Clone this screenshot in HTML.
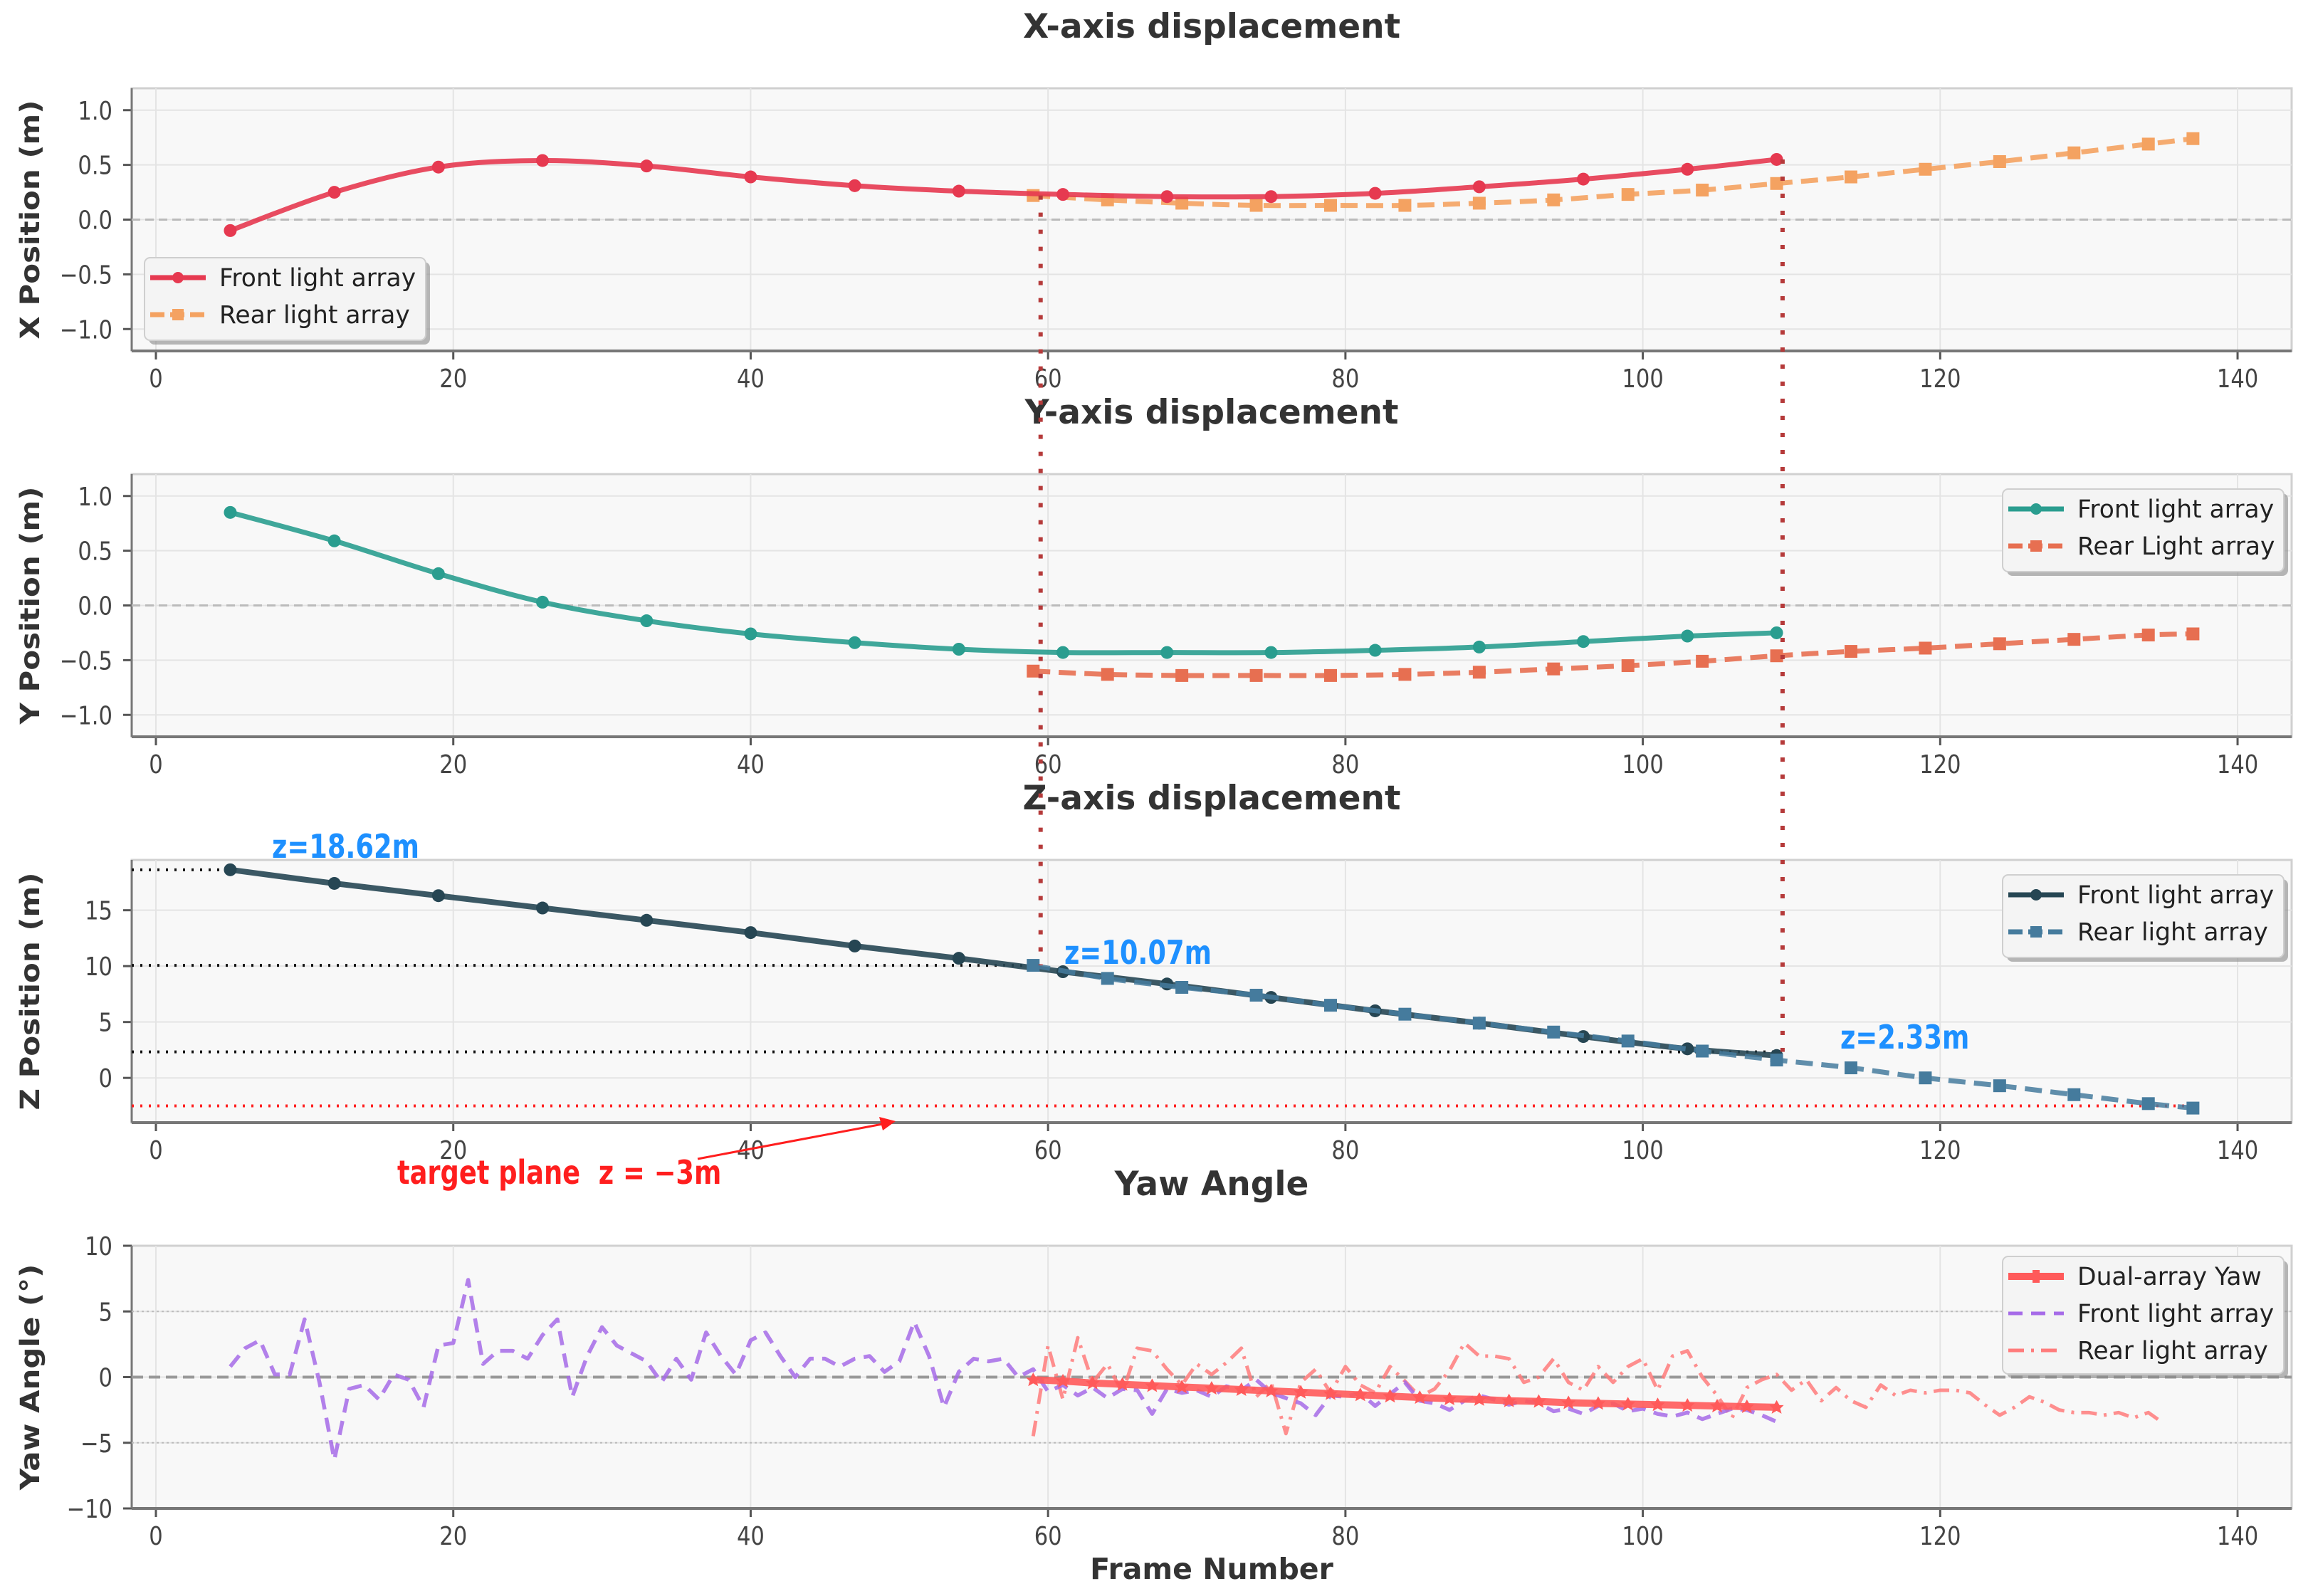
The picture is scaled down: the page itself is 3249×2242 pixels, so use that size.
<!DOCTYPE html>
<html><head><meta charset="utf-8"><style>
html,body{margin:0;padding:0;background:#fff;}
svg{display:block;}
text{font-family:"DejaVu Sans","Liberation Sans",sans-serif;}
</style></head><body>
<svg id="chart" xmlns="http://www.w3.org/2000/svg" width="3249" height="2242" viewBox="0 0 3249 2242"></svg>
<script>
// ---------- data ----------
const xFrontFrames=[5,12,19,26,33,40,47,54,61,68,75,82,89,96,103,109];
const xFrontVals=[-0.10,0.25,0.48,0.54,0.49,0.39,0.31,0.26,0.23,0.21,0.21,0.24,0.30,0.37,0.46,0.55];
const rearFrames=[59,64,69,74,79,84,89,94,99,104,109,114,119,124,129,134,137];
const xRearVals=[0.22,0.18,0.15,0.13,0.13,0.13,0.15,0.18,0.23,0.27,0.33,0.39,0.46,0.53,0.61,0.69,0.74];
const yFrontVals=[0.85,0.59,0.29,0.03,-0.14,-0.26,-0.34,-0.40,-0.43,-0.43,-0.43,-0.41,-0.38,-0.33,-0.28,-0.25];
const yRearVals=[-0.60,-0.63,-0.64,-0.64,-0.64,-0.63,-0.61,-0.58,-0.55,-0.51,-0.46,-0.42,-0.39,-0.35,-0.31,-0.27,-0.26];
const zFrontVals=[18.62,17.4,16.3,15.2,14.1,13.0,11.8,10.7,9.5,8.4,7.2,6.0,4.9,3.7,2.6,2.0];
const zRearVals=[10.07,8.9,8.1,7.4,6.5,5.7,4.9,4.1,3.3,2.4,1.6,0.9,0.0,-0.7,-1.5,-2.3,-2.7];
const zRefVals=[18.62,10.07,2.33];
const zRefFrames=[5,59,109];
const zRefLabels=["z=18.62m","z=10.07m","z=2.33m"];
const targetZ=-2.5;
const yawFrontStart=5;
const yawFrontVals=[0.8,2.2,2.8,0.2,0.2,4.4,-0.4,-6.3,-0.9,-0.6,-1.7,0.2,-0.2,-2.3,2.4,2.6,7.4,1.0,2.0,2.0,1.4,3.2,4.4,-1.5,1.6,3.8,2.4,1.8,1.2,-0.4,1.4,-0.2,3.4,1.6,0.2,2.8,3.4,1.6,0.0,1.4,1.4,0.8,1.4,1.6,0.4,1.2,4.2,1.6,-2.3,0.4,1.4,1.2,1.4,0.0,0.6,-1.1,-0.6,-1.4,-0.8,-1.6,-0.9,-1.0,-2.8,-0.9,-1.2,-1.0,-1.5,-0.7,-1.0,-0.2,-1.2,-1.6,-2.0,-2.9,-1.4,-1.5,-1.2,-2.2,-1.3,-0.4,-1.8,-2.0,-2.5,-1.8,-1.4,-1.7,-2.1,-1.8,-2.0,-2.6,-2.4,-2.8,-2.2,-2.0,-2.6,-2.4,-2.8,-3.0,-2.7,-3.2,-2.8,-2.4,-2.5,-2.9,-3.4];
const yawRearStart=59;
const yawRearVals=[-4.5,2.4,-1.7,3.0,-0.4,1.0,-1.2,2.2,2.0,0.6,-0.6,1.0,0.2,1.1,2.2,-1.5,-0.4,-4.3,-0.4,0.6,-1.2,0.8,-0.6,-1.2,0.8,-0.3,-1.5,-0.9,0.5,2.6,1.6,1.6,1.4,-0.4,0.0,1.4,-0.4,-1.0,0.8,-0.4,0.8,1.4,-1.0,1.6,2.0,0.0,-1.4,-3.1,-0.8,-0.2,0.2,-1.0,-0.2,-1.8,-0.8,-1.8,-2.3,-0.6,-1.4,-1.0,-1.2,-1.0,-1.0,-1.2,-2.1,-2.9,-2.3,-1.5,-1.9,-2.5,-2.7,-2.7,-2.9,-2.7,-3.1,-2.7,-3.5];
const dualFrames=[59,61,63,65,67,69,71,73,75,77,79,81,83,85,87,89,91,93,95,97,99,101,103,105,107,109];
const dualVals=[-0.2,-0.3,-0.45,-0.55,-0.65,-0.75,-0.85,-0.95,-1.05,-1.15,-1.25,-1.35,-1.45,-1.55,-1.65,-1.7,-1.8,-1.85,-1.95,-2.0,-2.05,-2.1,-2.15,-2.2,-2.25,-2.3];
const xTicks=[0,20,40,60,80,100,120,140];
const posTicks=[-1,-0.5,0,0.5,1];
const posTickLabels=["\u22121.0","\u22120.5","0.0","0.5","1.0"];
const zTicks=[0,5,10,15];
const yawTicks=[-10,-5,0,5,10];
const yawTickLabels=["\u221210","\u22125","0","5","10"];
const markerLinkFrames=[59.5,109.4];

// ---------- layout ----------
const NS="http://www.w3.org/2000/svg";
const svg=document.getElementById('chart');
const L=185,R=3219,H=369;
const tops=[124,666,1208,1750];
const ranges=[[-1.2,1.2],[-1.2,1.2],[-4,19.5],[-10,10]];
function sx(f){return 219+f*20.886;}
function sy(p,v){const r=ranges[p];return tops[p]+H-(v-r[0])/(r[1]-r[0])*H;}
function el(tag,attrs,parent){const e=document.createElementNS(NS,tag);for(const k in attrs)e.setAttribute(k,attrs[k]);(parent||svg).appendChild(e);return e;}
function txt(x,y,s,size,opts,parent){
  opts=opts||{};
  const k=opts.k||1;
  const t=el('text',{transform:`translate(${x},${y}) ${opts.rot?`rotate(-90) scale(1,${k})`:`scale(${k},1)`}`,'font-size':size,'text-anchor':opts.anchor||'start',fill:opts.fill||'#333','font-weight':opts.bold?'bold':'normal'},parent);
  t.setAttribute('xml:space','preserve');
  if(opts.family) t.setAttribute('font-family',opts.family);
  t.textContent=s;return t;
}
function smoothPath(pts){
  let d=`M${pts[0][0]},${pts[0][1]}`;
  for(let i=0;i<pts.length-1;i++){
    const p0=pts[Math.max(0,i-1)],p1=pts[i],p2=pts[i+1],p3=pts[Math.min(pts.length-1,i+2)];
    const c1=[p1[0]+(p2[0]-p0[0])/6,p1[1]+(p2[1]-p0[1])/6];
    const c2=[p2[0]-(p3[0]-p1[0])/6,p2[1]-(p3[1]-p1[1])/6];
    d+=` C${c1[0]},${c1[1]} ${c2[0]},${c2[1]} ${p2[0]},${p2[1]}`;
  }
  return d;
}
function linePath(pts){return 'M'+pts.map(p=>p[0]+','+p[1]).join(' L');}

const titles=["X-axis displacement","Y-axis displacement","Z-axis displacement","Yaw Angle"];
const titleNames=["x-panel-title","y-panel-title","z-panel-title","yaw-panel-title"];
const ylabels=["X Position (m)","Y Position (m)","Z Position (m)","Yaw Angle (\u00b0)"];
const panelNames=["x-displacement-panel","y-displacement-panel","z-displacement-panel","yaw-angle-panel"];

for(let p=0;p<4;p++){
  const g=el('g',{});
  
  
  const bg=el('rect',{x:L,y:tops[p],width:R-L,height:H,fill:'#f8f8f8',stroke:'#d0d0d0','stroke-width':3},g);
  
  
  xTicks.forEach(t=>{
    el('line',{x1:sx(t),x2:sx(t),y1:tops[p],y2:tops[p]+H,stroke:'#e4e4e4','stroke-width':2},g);
    el('line',{x1:sx(t),x2:sx(t),y1:tops[p]+H,y2:tops[p]+H+12,stroke:'#555','stroke-width':3},g);
    const tl=txt(sx(t),tops[p]+H+51,String(t),36,{anchor:'middle',fill:'#444',k:0.85},g);
    
    
  });
  let yt,yl;
  if(p<2){yt=posTicks;yl=posTickLabels;}else if(p==2){yt=zTicks;yl=zTicks.map(String);}else{yt=yawTicks;yl=yawTickLabels;}
  yt.forEach((t,i)=>{
    const y=sy(p,t);
    if(!(p==3&&Math.abs(t)==10)) el('line',{x1:L,x2:R,y1:y,y2:y,stroke:'#e4e4e4','stroke-width':2},g);
    el('line',{x1:L-12,x2:L,y1:y,y2:y,stroke:'#555','stroke-width':3},g);
    const tl=txt(L-27,y+13,yl[i],36,{anchor:'end',fill:'#444',k:0.85},g);
    
    
  });
  el('line',{x1:L,x2:L,y1:tops[p],y2:tops[p]+H,stroke:'#777','stroke-width':3},g);
  el('line',{x1:L,x2:R,y1:tops[p]+H,y2:tops[p]+H,stroke:'#777','stroke-width':4},g);
  const tt=txt((L+R)/2,tops[p]-71,titles[p],47,{anchor:'middle',bold:true},g);
  
  
  const yla=txt(55,tops[p]+H/2,ylabels[p],42,{anchor:'middle',bold:true,rot:true,k:0.9},g);
  
  
}
el('line',{x1:L,x2:R,y1:sy(0,0),y2:sy(0,0),stroke:'#bbb','stroke-width':3,'stroke-dasharray':'12 7'});
el('line',{x1:L,x2:R,y1:sy(1,0),y2:sy(1,0),stroke:'#bbb','stroke-width':3,'stroke-dasharray':'12 7'});
el('line',{x1:L,x2:R,y1:sy(3,0),y2:sy(3,0),stroke:'#999','stroke-width':4,'stroke-dasharray':'16 8'});
[5,-5].forEach(v=>el('line',{x1:L,x2:R,y1:sy(3,v),y2:sy(3,v),stroke:'#bbb','stroke-width':2,'stroke-dasharray':'3 4'}));

const xl=txt((L+R)/2,2218,"Frame Number",41,{anchor:'middle',bold:true});



function series(p,frames,vals,color,opts){
  const g=el('g',{});
  
  
  const pts=frames.map((f,i)=>[sx(f),sy(p,vals[i])]);
  el('path',{d:opts.straight?linePath(pts):smoothPath(pts),fill:'none',stroke:color,'stroke-width':opts.w||7,'stroke-dasharray':opts.dash||'none','stroke-linejoin':'round','stroke-linecap':opts.dash?'butt':'round',opacity:opts.op||0.9},g);
  if(opts.marker){
    pts.forEach(pt=>{
      let m;
      if(opts.marker=='o'){m=el('circle',{cx:pt[0],cy:pt[1],r:9,fill:color},g);}
      else if(opts.marker=='s'){m=el('rect',{x:pt[0]-9,y:pt[1]-9,width:18,height:18,fill:color},g);}
      else {m=el('path',{d:`M${pt[0]},${pt[1]-10} L${pt[0]+4},${pt[1]-3} L${pt[0]+10},${pt[1]-3} L${pt[0]+5},${pt[1]+2} L${pt[0]+7},${pt[1]+9} L${pt[0]},${pt[1]+5} L${pt[0]-7},${pt[1]+9} L${pt[0]-5},${pt[1]+2} L${pt[0]-10},${pt[1]-3} L${pt[0]-4},${pt[1]-3}Z`,fill:color},g);}
      
      
    });
  }
}
zRefVals.forEach((v,i)=>{
  const ln=el('line',{x1:L,x2:sx(zRefFrames[i]),y1:sy(2,v),y2:sy(2,v),stroke:'#111','stroke-width':4,'stroke-dasharray':'3 9'});
  
  
});
const tp=el('line',{x1:L,x2:sx(137),y1:sy(2,targetZ),y2:sy(2,targetZ),stroke:'#ff2020','stroke-width':4,'stroke-dasharray':'3 9'});



series(0,rearFrames,xRearVals,'#f4a261',{name:'x-rear-series',dash:'24 12',marker:'s'});
series(0,xFrontFrames,xFrontVals,'#e63950',{name:'x-front-series',marker:'o'});
series(1,rearFrames,yRearVals,'#e76f51',{name:'y-rear-series',dash:'24 12',marker:'s'});
series(1,xFrontFrames,yFrontVals,'#2a9d8f',{name:'y-front-series',marker:'o'});
series(2,xFrontFrames,zFrontVals,'#264653',{name:'z-front-series',marker:'o',w:8});
series(2,rearFrames,zRearVals,'#457b9d',{name:'z-rear-series',dash:'24 12',marker:'s',w:7,op:0.85});
const yawFF=yawFrontVals.map((v,i)=>yawFrontStart+i);
const yawRF=yawRearVals.map((v,i)=>yawRearStart+i);
series(3,yawRF,yawRearVals,'#ff7b7b',{name:'yaw-rear-series',dash:'22 10 4 10',straight:true,w:5,op:0.85});
series(3,yawFF,yawFrontVals,'#a66be8',{name:'yaw-front-series',dash:'20 12',straight:true,w:5.5,op:0.85});
series(3,dualFrames,dualVals,'#ff5a5a',{name:'yaw-dual-series',marker:'*',straight:true,w:10,op:0.9});

[[markerLinkFrames[0],0.22,10.07],[markerLinkFrames[1],0.55,2.33]].forEach(a=>{
  const ln=el('line',{x1:sx(a[0]),x2:sx(a[0]),y1:sy(0,a[1]),y2:sy(2,a[2]),stroke:'#b53a3a','stroke-width':6,'stroke-dasharray':'6 18'});
  
  
});
const annPos=[[382,1205],[1495,1354],[2585,1473]];
zRefLabels.forEach((s,i)=>{
  const t=txt(annPos[i][0],annPos[i][1],s,46,{bold:true,fill:'#1e90ff',family:'"Liberation Sans",sans-serif',k:0.8});
  
  
});
const tl=txt(558,1663,"target plane\u00a0\u00a0z = \u22123m",46,{bold:true,fill:'#ff1e1e',family:'"Liberation Sans",sans-serif',k:0.8});


const ar=el('g',{});


el('line',{x1:980,y1:1628,x2:1245,y2:1578,stroke:'#ff1e1e','stroke-width':3},ar);
el('path',{d:'M1258,1575 L1235,1569 L1240,1588 Z',fill:'#ff1e1e'},ar);

function legend(x,y,w,h,items,name){
  const g=el('g',{});
  
  
  el('rect',{x:x+6,y:y+6,width:w,height:h,rx:8,fill:'#888',opacity:0.6},g);
  el('rect',{x:x,y:y,width:w,height:h,rx:8,fill:'#f4f4f4',stroke:'#cfcfcf','stroke-width':2},g);
  items.forEach((it,i)=>{
    const cy=y+28+i*52;
    const e=el('g',{},g);
    
    
    el('line',{x1:x+8,x2:x+86,y1:cy,y2:cy,stroke:it.c,'stroke-width':it.w||7,'stroke-dasharray':it.d||'none'},e);
    if(it.m=='o') el('circle',{cx:x+47,cy:cy,r:8,fill:it.c},e);
    if(it.m=='s') el('rect',{x:x+39,y:cy-8,width:16,height:16,fill:it.c},e);
    if(it.m=='*') el('rect',{x:x+42,y:cy-9,width:10,height:18,fill:it.c},e);
    txt(x+105,cy+12,it.t,34.5,{fill:'#222'},e);
  });
}
legend(203,362,395,116,[{c:'#e63950',m:'o',t:'Front light array'},{c:'#f4a261',m:'s',d:'20 8',t:'Rear light array'}],'x-legend');
legend(2813,687,395,116,[{c:'#2a9d8f',m:'o',t:'Front light array'},{c:'#e76f51',m:'s',d:'20 8',t:'Rear Light array'}],'y-legend');
legend(2813,1229,395,116,[{c:'#264653',m:'o',t:'Front light array'},{c:'#457b9d',m:'s',d:'20 8',t:'Rear light array'}],'z-legend');
legend(2813,1765,395,165,[{c:'#ff5a5a',m:'*',w:10,t:'Dual-array Yaw'},{c:'#a66be8',d:'20 12',w:5,t:'Front light array'},{c:'#ff7b7b',d:'22 10 4 10',w:5,t:'Rear light array'}],'yaw-legend');
</script>
</body></html>
